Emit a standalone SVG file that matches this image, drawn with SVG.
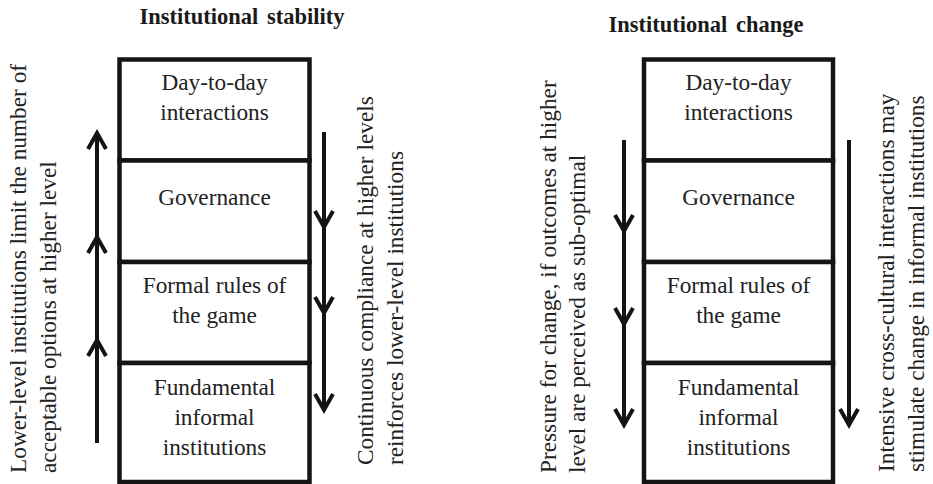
<svg xmlns="http://www.w3.org/2000/svg" width="933" height="484" viewBox="0 0 933 484">
<style>
.box{fill:#fff;stroke:#141414;stroke-width:4.5}
.ar{stroke:#141414;stroke-width:4;fill:none;marker-end:url(#chev)}
</style>
<defs>
<marker id="chev" markerUnits="userSpaceOnUse" markerWidth="40" markerHeight="40" viewBox="-20 -20 40 40" refX="0" refY="0" orient="auto" overflow="visible">
<path d="M-16,-9 L0,0 L-16,9" fill="none" stroke="#141414" stroke-width="4" stroke-linejoin="miter"/>
</marker>
</defs>
<rect width="933" height="484" fill="#fff"/>

<g id="stability-day">
<rect class="box" x="119.5" y="59.5" width="190" height="101"/>
<text x="214.5" y="90" text-anchor="middle" fill="#222" style="font-family:'Liberation Serif',Tinos,'Times New Roman',serif;font-size:23.3px;font-weight:400">Day-to-day</text>
<text x="214.5" y="120" text-anchor="middle" fill="#222" style="font-family:'Liberation Serif',Tinos,'Times New Roman',serif;font-size:23.3px;font-weight:400">interactions</text>
</g>
<g id="stability-governance">
<rect class="box" x="119.5" y="160.5" width="190" height="101.5"/>
<text x="214.5" y="205" text-anchor="middle" fill="#222" style="font-family:'Liberation Serif',Tinos,'Times New Roman',serif;font-size:23.3px;font-weight:400">Governance</text>
</g>
<g id="stability-formal">
<rect class="box" x="119.5" y="262" width="190" height="101"/>
<text x="214.5" y="293" text-anchor="middle" fill="#222" style="font-family:'Liberation Serif',Tinos,'Times New Roman',serif;font-size:23.3px;font-weight:400">Formal rules of</text>
<text x="214.5" y="323" text-anchor="middle" fill="#222" style="font-family:'Liberation Serif',Tinos,'Times New Roman',serif;font-size:23.3px;font-weight:400">the game</text>
</g>
<g id="stability-informal">
<rect class="box" x="119.5" y="363" width="190" height="119"/>
<text x="214.5" y="395" text-anchor="middle" fill="#222" style="font-family:'Liberation Serif',Tinos,'Times New Roman',serif;font-size:23.3px;font-weight:400">Fundamental</text>
<text x="214.5" y="425" text-anchor="middle" fill="#222" style="font-family:'Liberation Serif',Tinos,'Times New Roman',serif;font-size:23.3px;font-weight:400">informal</text>
<text x="214.5" y="455" text-anchor="middle" fill="#222" style="font-family:'Liberation Serif',Tinos,'Times New Roman',serif;font-size:23.3px;font-weight:400">institutions</text>
</g>

<g id="change-day">
<rect class="box" x="644" y="59.5" width="189" height="101"/>
<text x="738.5" y="90" text-anchor="middle" fill="#222" style="font-family:'Liberation Serif',Tinos,'Times New Roman',serif;font-size:23.3px;font-weight:400">Day-to-day</text>
<text x="738.5" y="120" text-anchor="middle" fill="#222" style="font-family:'Liberation Serif',Tinos,'Times New Roman',serif;font-size:23.3px;font-weight:400">interactions</text>
</g>
<g id="change-governance">
<rect class="box" x="644" y="160.5" width="189" height="101.5"/>
<text x="738.5" y="205" text-anchor="middle" fill="#222" style="font-family:'Liberation Serif',Tinos,'Times New Roman',serif;font-size:23.3px;font-weight:400">Governance</text>
</g>
<g id="change-formal">
<rect class="box" x="644" y="262" width="189" height="101"/>
<text x="738.5" y="293" text-anchor="middle" fill="#222" style="font-family:'Liberation Serif',Tinos,'Times New Roman',serif;font-size:23.3px;font-weight:400">Formal rules of</text>
<text x="738.5" y="323" text-anchor="middle" fill="#222" style="font-family:'Liberation Serif',Tinos,'Times New Roman',serif;font-size:23.3px;font-weight:400">the game</text>
</g>
<g id="change-informal">
<rect class="box" x="644" y="363" width="189" height="119"/>
<text x="738.5" y="395" text-anchor="middle" fill="#222" style="font-family:'Liberation Serif',Tinos,'Times New Roman',serif;font-size:23.3px;font-weight:400">Fundamental</text>
<text x="738.5" y="425" text-anchor="middle" fill="#222" style="font-family:'Liberation Serif',Tinos,'Times New Roman',serif;font-size:23.3px;font-weight:400">informal</text>
<text x="738.5" y="455" text-anchor="middle" fill="#222" style="font-family:'Liberation Serif',Tinos,'Times New Roman',serif;font-size:23.3px;font-weight:400">institutions</text>
</g>

<g id="connectors">
<line class="ar" x1="97" y1="443" x2="97" y2="340"/>
<line class="ar" x1="97" y1="340" x2="97" y2="237"/>
<line class="ar" x1="97" y1="237" x2="97" y2="133"/>
<line class="ar" x1="324" y1="132" x2="324" y2="227"/>
<line class="ar" x1="324" y1="227" x2="324" y2="313"/>
<line class="ar" x1="324" y1="313" x2="324" y2="410"/>
<line class="ar" x1="624" y1="140" x2="624" y2="231"/>
<line class="ar" x1="624" y1="231" x2="624" y2="324"/>
<line class="ar" x1="624" y1="324" x2="624" y2="425"/>
<line class="ar" x1="849" y1="140" x2="849" y2="425"/>
</g>

<g id="labels">
<text transform="translate(26,473) rotate(-90)" fill="#222" style="font-family:'Liberation Serif',Tinos,'Times New Roman',serif;font-size:23.3px;font-weight:400">Lower-level institutions limit the number of</text>
<text transform="translate(56,473) rotate(-90)" fill="#222" style="font-family:'Liberation Serif',Tinos,'Times New Roman',serif;font-size:23.3px;font-weight:400">acceptable options at higher level</text>
<text transform="translate(373,465) rotate(-90)" fill="#222" style="font-family:'Liberation Serif',Tinos,'Times New Roman',serif;font-size:23.3px;font-weight:400">Continuous compliance at higher levels</text>
<text transform="translate(403,465) rotate(-90)" fill="#222" style="font-family:'Liberation Serif',Tinos,'Times New Roman',serif;font-size:23.3px;font-weight:400">reinforces lower-level institutions</text>
<text transform="translate(556,473) rotate(-90)" fill="#222" style="font-family:'Liberation Serif',Tinos,'Times New Roman',serif;font-size:23.3px;font-weight:400">Pressure for change, if outcomes at higher</text>
<text transform="translate(585,473) rotate(-90)" fill="#222" style="font-family:'Liberation Serif',Tinos,'Times New Roman',serif;font-size:23.3px;font-weight:400">level are perceived as sub-optimal</text>
<text transform="translate(894,472) rotate(-90)" fill="#222" style="font-family:'Liberation Serif',Tinos,'Times New Roman',serif;font-size:23.3px;font-weight:400">Intensive cross-cultural interactions may</text>
<text transform="translate(924,472) rotate(-90)" fill="#222" style="font-family:'Liberation Serif',Tinos,'Times New Roman',serif;font-size:23.3px;font-weight:400">stimulate change in informal institutions</text>
</g>

<g id="titles">
<text x="242" y="24" text-anchor="middle" fill="#1a1a1a" style="font-family:'Liberation Serif',Tinos,'Times New Roman',serif;font-size:22.5px;font-weight:700;word-spacing:3px">Institutional stability</text>
<text x="706" y="32" text-anchor="middle" fill="#1a1a1a" style="font-family:'Liberation Serif',Tinos,'Times New Roman',serif;font-size:22.5px;font-weight:700;word-spacing:3px">Institutional change</text>
</g>
</svg>
